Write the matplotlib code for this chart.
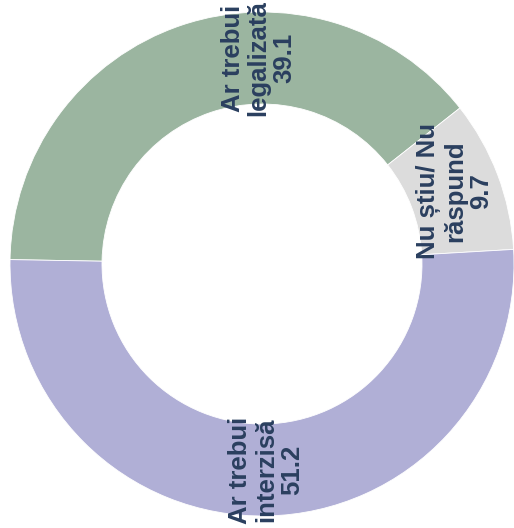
import numpy as np
from matplotlib import pyplot as plt

# answers and shares (%)
labels = ["Ar trebui\nlegalizată", "Nu știu/ Nu\nrăspund", "Ar trebui\ninterzisă"]
values = [39.1, 9.7, 51.2]
colors = ["#9bb5a0", "#dcdcdc", "#b0afd6"]

plt.rcParams['font.family'] = ['Liberation Sans', 'DejaVu Sans']

fig = plt.figure(figsize=(5.14, 5.28), dpi=100)
ax = fig.add_axes([0, 0, 1, 1])

cx, cy = 262, 264
R, w = 252, 92
start = 179

wedges, _ = ax.pie(values, colors=colors, startangle=start, counterclock=False,
                   radius=R, center=(cx, cy), frame=True,
                   wedgeprops=dict(width=w, edgecolor="white", linewidth=0.6))
ax.set_xlim(0, 514)
ax.set_ylim(0, 528)
ax.axis("off")

# label angles: slice midpoint, green one pushed towards the top like the original
ang = start
mids = []
for v in values:
    span = v / sum(values) * 360
    mids.append(ang - span / 2)
    ang -= span
mids[0] = 91

r_lab = R - w / 2
for lab, v, a in zip(labels, values, mids):
    t = np.deg2rad(a)
    ax.text(cx + r_lab * np.cos(t), cy + r_lab * np.sin(t), lab + "\n" + str(v),
            rotation=90, ha="center", va="center", multialignment="center",
            fontsize=18.5, fontweight="bold", color="#2a3f5f", linespacing=1.1)

plt.savefig("out.png", dpi=100)
